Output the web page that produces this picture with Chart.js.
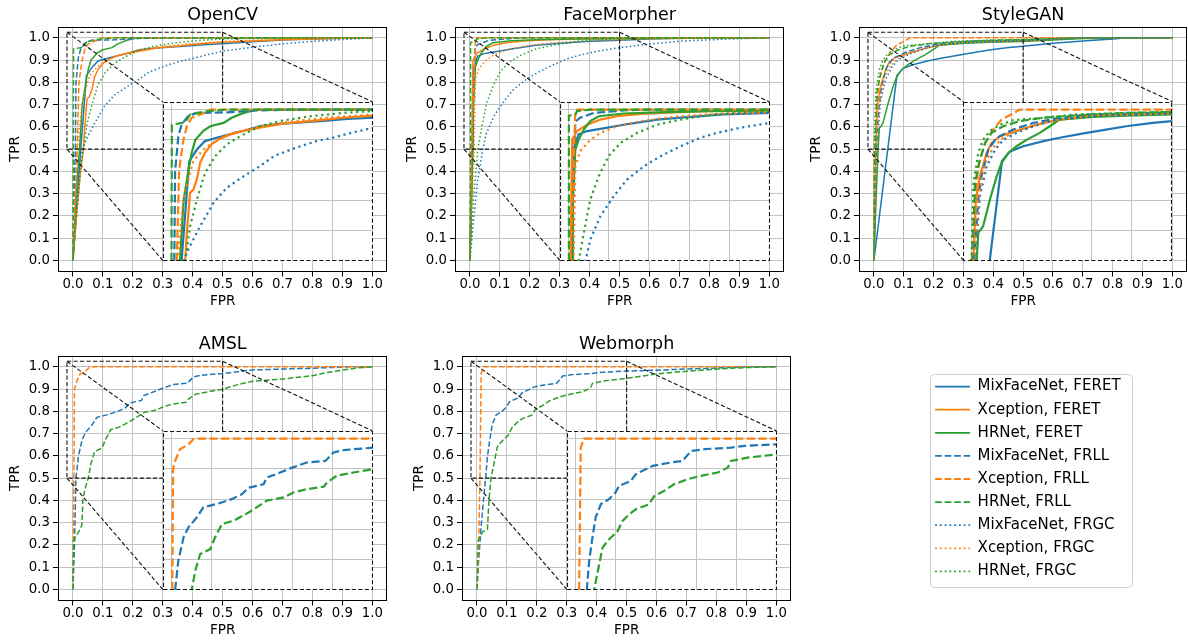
<!DOCTYPE html>
<html><head><meta charset="utf-8">
<script src="https://cdn.jsdelivr.net/npm/chart.js@4.4.1/dist/chart.umd.min.js"></script>
<style>
html,body{margin:0;padding:0;background:#fff;overflow:hidden;width:1188px;height:640px;}
.box{position:absolute;}
.box canvas{display:block;}
</style></head><body>
<script>
// ---------------- DATA ----------------
const tickValues = [0,0.1,0.2,0.3,0.4,0.5,0.6,0.7,0.8,0.9,1.0];
const insetXTicks = [0,0.1,0.2,0.3,0.4,0.5];
const insetYTicks = [0.5,0.6,0.7,0.8,0.9,1.0];
const panelTitles = ['OpenCV','FaceMorpher','StyleGAN','AMSL','Webmorph'];
const seriesLabels = ['MixFaceNet, FERET','Xception, FERET','HRNet, FERET',
  'MixFaceNet, FRLL','Xception, FRLL','HRNet, FRLL',
  'MixFaceNet, FRGC','Xception, FRGC','HRNet, FRGC'];
const xAxisLabel = 'FPR', yAxisLabel = 'TPR';
const mainRange = [-0.05, 1.05];
const zoomX = [-0.02, 0.5], zoomY = [0.5, 1.025];
const insetSpanX = [0.3, 1.0], insetSpanY = [0, 0.713];

// [FPR, TPR] points
const openCV_MixFaceNet_FERET = [[0,0],[0.026,0.5],[0.045,0.83],[0.064,0.868],[0.084,0.896],[0.113,0.907],[0.159,0.923],[0.18,0.93],[0.22,0.945],[0.27,0.953],[0.303,0.956],[0.37,0.962],[0.436,0.969],[0.5,0.973],[0.6,0.982],[0.7,0.99],[0.8,0.995],[0.9,0.998],[1,1]];
const openCV_Xception_FERET = [[0,0],[0.012,0.2],[0.025,0.4],[0.035,0.5],[0.039,0.593],[0.047,0.725],[0.055,0.735],[0.064,0.77],[0.072,0.824],[0.084,0.857],[0.1,0.885],[0.12,0.903],[0.146,0.918],[0.18,0.93],[0.22,0.94],[0.28,0.954],[0.345,0.962],[0.427,0.973],[0.5,0.98],[0.6,0.986],[0.7,0.991],[0.8,0.995],[0.9,0.998],[1,1]];
const openCV_HRNet_FERET = [[0,0],[0.01,0.3],[0.022,0.5],[0.031,0.7],[0.043,0.8],[0.051,0.857],[0.06,0.9],[0.08,0.93],[0.097,0.945],[0.13,0.956],[0.15,0.973],[0.18,0.989],[0.204,0.997],[0.22,1],[1,1]];
const openCV_MixFaceNet_FRLL = [[0,0],[0.004,0.3],[0.008,0.5],[0.01,0.797],[0.018,0.912],[0.026,0.95],[0.043,0.98],[0.064,0.989],[0.138,0.991],[0.213,0.997],[0.3,1],[1,1]];
const openCV_Xception_FRLL = [[0,0],[0.008,0.3],[0.014,0.5],[0.02,0.8],[0.03,0.896],[0.039,0.945],[0.051,0.973],[0.072,0.984],[0.088,0.991],[0.097,1],[1,1]];
const openCV_HRNet_FRLL = [[0,0],[0.001,0.5],[0.002,0.95],[0.035,0.958],[0.047,0.984],[0.09,0.995],[0.14,1],[1,1]];
const openCV_MixFaceNet_FRGC = [[0,0],[0.01,0.2],[0.02,0.4],[0.03,0.5],[0.047,0.55],[0.072,0.615],[0.105,0.692],[0.138,0.742],[0.18,0.78],[0.22,0.813],[0.254,0.846],[0.287,0.863],[0.32,0.879],[0.361,0.896],[0.4,0.907],[0.452,0.925],[0.5,0.94],[0.6,0.958],[0.7,0.973],[0.8,0.984],[0.9,0.992],[1,1]];
const openCV_Xception_FRGC = [[0,0],[0.008,0.3],[0.015,0.5],[0.03,0.7],[0.043,0.77],[0.055,0.83],[0.08,0.868],[0.113,0.9],[0.155,0.923],[0.22,0.945],[0.303,0.962],[0.386,0.973],[0.5,0.984],[0.6,0.99],[0.7,0.994],[0.8,0.997],[1,1]];
const openCV_HRNet_FRGC = [[0,0],[0.012,0.2],[0.025,0.4],[0.035,0.5],[0.047,0.615],[0.064,0.703],[0.084,0.79],[0.109,0.846],[0.138,0.885],[0.171,0.912],[0.22,0.945],[0.27,0.962],[0.345,0.978],[0.427,0.989],[0.5,0.995],[0.6,0.998],[1,1]];

const faceMorpher_MixFaceNet_FERET = [[0,0],[0.009,0.5],[0.01,0.7],[0.013,0.868],[0.026,0.918],[0.047,0.929],[0.08,0.936],[0.138,0.95],[0.22,0.967],[0.303,0.976],[0.386,0.984],[0.5,0.989],[0.6,0.995],[0.7,0.998],[1,1]];
const faceMorpher_Xception_FERET = [[0,0],[0.006,0.5],[0.01,0.9],[0.022,0.929],[0.047,0.95],[0.08,0.967],[0.121,0.978],[0.18,0.986],[0.262,0.991],[0.345,0.995],[0.5,0.997],[1,1]];
const faceMorpher_HRNet_FERET = [[0,0],[0.01,0.5],[0.012,0.7],[0.018,0.868],[0.026,0.9],[0.039,0.934],[0.055,0.962],[0.076,0.978],[0.138,0.987],[0.22,0.991],[0.345,0.995],[0.5,0.997],[1,1]];
const faceMorpher_MixFaceNet_FRLL = [[0,0],[0.007,0.5],[0.018,0.96],[0.03,0.973],[0.064,0.989],[0.138,0.997],[0.188,1],[1,1]];
const faceMorpher_Xception_FRLL = [[0,0],[0.006,0.5],[0.018,0.995],[0.022,1],[1,1]];
const faceMorpher_HRNet_FRLL = [[0,0],[0.002,0.5],[0.002,0.98],[0.018,0.983],[0.022,0.995],[0.055,1],[1,1]];
const faceMorpher_MixFaceNet_FRGC = [[0,0],[0.01,0.15],[0.025,0.35],[0.043,0.5],[0.055,0.571],[0.08,0.648],[0.113,0.714],[0.146,0.769],[0.188,0.813],[0.229,0.846],[0.279,0.879],[0.328,0.907],[0.369,0.923],[0.427,0.94],[0.5,0.956],[0.6,0.972],[0.7,0.985],[0.8,0.991],[0.9,0.996],[1,1]];
const faceMorpher_Xception_FRGC = [[0,0],[0.008,0.3],[0.014,0.5],[0.018,0.813],[0.03,0.863],[0.055,0.9],[0.08,0.923],[0.121,0.945],[0.18,0.962],[0.262,0.976],[0.345,0.984],[0.5,0.991],[0.6,0.995],[1,1]];
const faceMorpher_HRNet_FRGC = [[0,0],[0.01,0.25],[0.02,0.4],[0.026,0.5],[0.039,0.593],[0.055,0.703],[0.076,0.78],[0.1,0.846],[0.13,0.89],[0.171,0.923],[0.22,0.95],[0.279,0.967],[0.361,0.984],[0.436,0.991],[0.5,0.997],[1,1]];

const styleGAN_MixFaceNet_FERET = [[0,0],[0.077,0.83],[0.097,0.862],[0.13,0.879],[0.18,0.896],[0.22,0.907],[0.287,0.923],[0.336,0.934],[0.386,0.945],[0.452,0.956],[0.5,0.962],[0.6,0.976],[0.7,0.986],[0.8,0.995],[0.85,1],[1,1]];
const styleGAN_Xception_FERET = [[0,0],[0.003,0.3],[0.006,0.5],[0.012,0.703],[0.022,0.78],[0.039,0.857],[0.051,0.89],[0.072,0.912],[0.097,0.923],[0.138,0.94],[0.18,0.956],[0.22,0.967],[0.303,0.978],[0.386,0.984],[0.5,0.987],[0.6,0.993],[0.7,1],[1,1]];
const styleGAN_HRNet_FERET = [[0,0],[0.008,0.3],[0.014,0.5],[0.018,0.593],[0.03,0.615],[0.047,0.703],[0.064,0.78],[0.076,0.824],[0.093,0.857],[0.113,0.879],[0.138,0.9],[0.171,0.923],[0.196,0.945],[0.22,0.967],[0.303,0.976],[0.386,0.98],[0.5,0.984],[0.6,0.99],[0.7,0.997],[1,1]];
const styleGAN_MixFaceNet_FRLL = [[0,0],[0.004,0.3],[0.008,0.5],[0.018,0.703],[0.026,0.78],[0.043,0.868],[0.064,0.907],[0.08,0.918],[0.105,0.934],[0.155,0.956],[0.22,0.973],[0.303,0.984],[0.5,0.99],[0.6,0.995],[0.7,1],[1,1]];
const styleGAN_Xception_FRLL = [[0,0],[0.002,0.5],[0.01,0.703],[0.018,0.813],[0.035,0.89],[0.055,0.934],[0.076,0.967],[0.1,0.984],[0.121,1],[1,1]];
const styleGAN_HRNet_FRLL = [[0,0],[0.003,0.5],[0.01,0.758],[0.022,0.835],[0.035,0.89],[0.051,0.923],[0.08,0.945],[0.121,0.962],[0.18,0.973],[0.262,0.981],[0.386,0.989],[0.5,0.992],[0.6,0.996],[0.7,1],[1,1]];
const styleGAN_MixFaceNet_FRGC = [[0,0],[0.005,0.3],[0.01,0.5],[0.022,0.714],[0.039,0.813],[0.06,0.868],[0.08,0.9],[0.113,0.923],[0.155,0.945],[0.212,0.967],[0.303,0.978],[0.5,0.987],[0.6,0.993],[0.7,1],[1,1]];
const styleGAN_Xception_FRGC = [[0,0],[0.004,0.3],[0.008,0.5],[0.018,0.703],[0.035,0.824],[0.055,0.874],[0.08,0.907],[0.113,0.929],[0.163,0.95],[0.22,0.967],[0.303,0.98],[0.5,0.987],[0.6,0.993],[0.7,1],[1,1]];
const styleGAN_HRNet_FRGC = [[0,0],[0.001,0.5],[0.006,0.758],[0.018,0.857],[0.03,0.9],[0.047,0.929],[0.072,0.95],[0.105,0.965],[0.18,0.973],[0.262,0.984],[0.386,0.989],[0.5,0.992],[0.6,0.996],[0.7,1],[1,1]];

const amsl_MixFaceNet_FRLL = [[0,0],[0.005,0.2],[0.01,0.5],[0.018,0.597],[0.031,0.674],[0.043,0.707],[0.064,0.74],[0.08,0.773],[0.113,0.784],[0.15,0.8],[0.175,0.816],[0.192,0.838],[0.229,0.849],[0.237,0.871],[0.27,0.888],[0.3,0.904],[0.336,0.921],[0.382,0.926],[0.402,0.954],[0.427,0.962],[0.5,0.97],[0.6,0.986],[0.8,0.994],[0.93,1],[1,1]];
const amsl_Xception_FRLL = [[0,0],[0.003,0.5],[0.005,0.9],[0.01,0.926],[0.022,0.965],[0.043,0.981],[0.055,0.998],[0.064,1],[1,1]];
const amsl_HRNet_FRLL = [[0,0],[0.002,0.22],[0.02,0.26],[0.03,0.29],[0.033,0.4],[0.04,0.45],[0.051,0.5],[0.06,0.564],[0.072,0.619],[0.097,0.635],[0.109,0.674],[0.126,0.718],[0.155,0.729],[0.192,0.756],[0.212,0.773],[0.237,0.795],[0.279,0.806],[0.303,0.822],[0.336,0.833],[0.378,0.841],[0.386,0.855],[0.41,0.877],[0.452,0.888],[0.5,0.899],[0.55,0.92],[0.6,0.935],[0.7,0.945],[0.8,0.96],[0.85,0.975],[0.9,0.985],[0.95,0.995],[1,1]];

const webmorph_MixFaceNet_FRLL = [[0,0],[0.005,0.12],[0.015,0.3],[0.025,0.45],[0.029,0.5],[0.035,0.597],[0.043,0.674],[0.051,0.74],[0.064,0.784],[0.084,0.8],[0.1,0.822],[0.109,0.844],[0.138,0.86],[0.15,0.882],[0.175,0.899],[0.192,0.91],[0.237,0.921],[0.266,0.926],[0.287,0.959],[0.32,0.965],[0.386,0.97],[0.419,0.976],[0.5,0.981],[0.6,0.985],[0.7,0.99],[0.8,0.995],[0.9,1],[1,1]];
const webmorph_Xception_FRLL = [[0,0],[0.005,0.15],[0.01,0.5],[0.014,0.97],[0.022,1],[1,1]];
const webmorph_HRNet_FRLL = [[0,0],[0.004,0.22],[0.02,0.26],[0.035,0.27],[0.04,0.4],[0.047,0.5],[0.055,0.553],[0.068,0.64],[0.084,0.667],[0.105,0.694],[0.117,0.727],[0.134,0.75],[0.15,0.766],[0.183,0.783],[0.196,0.81],[0.22,0.827],[0.245,0.849],[0.279,0.866],[0.312,0.877],[0.353,0.888],[0.378,0.904],[0.386,0.926],[0.427,0.937],[0.5,0.948],[0.6,0.968],[0.7,0.98],[0.8,0.99],[0.9,0.997],[1,1]];

// series index (into seriesLabels) -> points, per panel
const panelCurves = [
  [[0,openCV_MixFaceNet_FERET],[1,openCV_Xception_FERET],[2,openCV_HRNet_FERET],[3,openCV_MixFaceNet_FRLL],[4,openCV_Xception_FRLL],[5,openCV_HRNet_FRLL],[6,openCV_MixFaceNet_FRGC],[7,openCV_Xception_FRGC],[8,openCV_HRNet_FRGC]],
  [[0,faceMorpher_MixFaceNet_FERET],[1,faceMorpher_Xception_FERET],[2,faceMorpher_HRNet_FERET],[3,faceMorpher_MixFaceNet_FRLL],[4,faceMorpher_Xception_FRLL],[5,faceMorpher_HRNet_FRLL],[6,faceMorpher_MixFaceNet_FRGC],[7,faceMorpher_Xception_FRGC],[8,faceMorpher_HRNet_FRGC]],
  [[0,styleGAN_MixFaceNet_FERET],[1,styleGAN_Xception_FERET],[2,styleGAN_HRNet_FERET],[3,styleGAN_MixFaceNet_FRLL],[4,styleGAN_Xception_FRLL],[5,styleGAN_HRNet_FRLL],[6,styleGAN_MixFaceNet_FRGC],[7,styleGAN_Xception_FRGC],[8,styleGAN_HRNet_FRGC]],
  [[3,amsl_MixFaceNet_FRLL],[4,amsl_Xception_FRLL],[5,amsl_HRNet_FRLL]],
  [[3,webmorph_MixFaceNet_FRLL],[4,webmorph_Xception_FRLL],[5,webmorph_HRNet_FRLL]]
];

// ---------------- LAYOUT / STYLE ----------------
const LAYOUT = [
  {x0:72.7, x1:372.3, y1:38.3, y0:261.3},
  {x0:470.0, x1:769.3, y1:38.3, y0:261.3},
  {x0:874.3, x1:1172.6, y1:38.3, y0:261.3},
  {x0:72.7, x1:372.3, y1:367.0, y0:590.0},
  {x0:477.0, x1:776.7, y1:367.0, y0:590.0}
];
const COLORS = ['#1f77b4','#ff7f0e','#2ca02c'];
const GRID = '#c2c2c2';
const FONT = "'DejaVu Sans', sans-serif";
const CONNECT_DASH = [4.2, 2.3];
Chart.defaults.font.family = FONT;
Chart.defaults.color = '#000';

function styleFor(li, lw){
  const model = li % 3, kind = Math.floor(li / 3);
  const dash = kind === 0 ? [] : kind === 1 ? [3.7*lw, 1.6*lw] : [1*lw, 1.65*lw];
  return {color: COLORS[model], dash};
}
function makeDatasets(list, lw){
  return list.map(([li, pts], k) => {
    const s = styleFor(li, lw);
    return {label: seriesLabels[li], data: pts.map(p => ({x:p[0], y:p[1]})),
      showLine:true, borderColor:s.color, backgroundColor:s.color, borderWidth:lw,
      borderDash:s.dash, pointRadius:0, pointHoverRadius:0, fill:false, tension:0, order:-k};
  });
}
function makeBox(w, h, z){
  const box = document.createElement('div');
  box.className = 'box'; box.style.zIndex = z;
  const c = document.createElement('canvas');
  c.width = Math.round(w); c.height = Math.round(h);
  box.appendChild(c); document.body.appendChild(box);
  return {box, canvas:c};
}
function fitChart(chart, box, T){
  for (let k = 0; k < 3; k++){
    const ca = chart.chartArea;
    const w = Math.round(chart.width + (T.r - T.l) - (ca.right - ca.left));
    const h = Math.round(chart.height + (T.b - T.t) - (ca.bottom - ca.top));
    if (w === chart.width && h === chart.height) break;
    chart.resize(w, h);
  }
  const ca = chart.chartArea;
  const L = Math.round(T.l - ca.left), Tp = Math.round(T.t - ca.top);
  box.style.left = L + 'px'; box.style.top = Tp + 'px';
  return {left: L, top: Tp};
}
function line(ctx, x1, y1, x2, y2){ ctx.beginPath(); ctx.moveTo(x1,y1); ctx.lineTo(x2,y2); ctx.stroke(); }

const mainDecor = {
  id:'mainDecor',
  afterDatasetsDraw(chart){
    const {ctx, chartArea:a, scales:{x, y}} = chart;
    const X = v => x.getPixelForValue(v), Y = v => y.getPixelForValue(v);
    ctx.save();
    ctx.strokeStyle = '#000'; ctx.lineWidth = 1; ctx.setLineDash([]);
    const l = Math.round(a.left)+0.5, t = Math.round(a.top)+0.5, r = Math.round(a.right)-0.5, b = Math.round(a.bottom)-0.5;
    ctx.strokeRect(l, t, r-l, b-t);
    ctx.setLineDash(CONNECT_DASH); ctx.lineWidth = 1.1; ctx.strokeStyle = '#111';
    ctx.strokeRect(X(zoomX[0]), Y(zoomY[1]), X(zoomX[1]) - X(zoomX[0]), Y(zoomY[0]) - Y(zoomY[1]));
    line(ctx, X(zoomX[0]), Y(zoomY[1]), X(insetSpanX[0]), Y(insetSpanY[1]));
    line(ctx, X(zoomX[1]), Y(zoomY[1]), X(insetSpanX[1]), Y(insetSpanY[1]));
    line(ctx, X(zoomX[0]), Y(zoomY[0]), X(insetSpanX[0]), Y(insetSpanY[0]));
    ctx.restore();
  }
};
const insetDecor = {
  id:'insetDecor',
  beforeDraw(chart){
    const {ctx, chartArea:a} = chart;
    ctx.save(); ctx.fillStyle = '#fff'; ctx.fillRect(a.left, a.top, a.right-a.left, a.bottom-a.top); ctx.restore();
  },
  afterDraw(chart){
    const {ctx, chartArea:a} = chart;
    ctx.save(); ctx.strokeStyle = '#111'; ctx.lineWidth = 1.1; ctx.setLineDash(CONNECT_DASH);
    ctx.strokeRect(a.left+0.5, a.top+0.5, a.right-a.left-1, a.bottom-a.top-1);
    ctx.restore();
  }
};

function mainScale(axisTitle, horizontal){
  return {
    type:'linear', min:mainRange[0], max:mainRange[1],
    afterBuildTicks: s => { s.ticks = tickValues.map(v => ({value:v})); },
    ticks:{callback: v => Number(v).toFixed(1), font:{size:13.3}, color:'#000', padding: horizontal ? 0 : 3, maxRotation:0, autoSkip:false},
    grid:{color:GRID, lineWidth:1, tickColor:'#000', tickLength:5, tickWidth:1},
    border:{display:false},
    title:{display:true, text:axisTitle, font:{size:13.6}, color:'#000', padding:0},
    afterFit: s => { if (horizontal) s.height = 38.5; else s.width = 51; }
  };
}
function insetScale(range, ticks, horizontal){
  return {
    type:'linear', min:range[0], max:range[1],
    afterBuildTicks: s => { s.ticks = ticks.map(v => ({value:v})); },
    ticks:{display:false},
    grid:{color:GRID, lineWidth:1, drawTicks:false},
    border:{display:false},
    afterFit: s => { if (horizontal) s.height = 0; else s.width = 0; }
  };
}

panelTitles.forEach((title, p) => {
  const Lo = LAYOUT[p];
  const u = Lo.x1 - Lo.x0, v = Lo.y0 - Lo.y1;
  const T = {l: Lo.x0 + mainRange[0]*u, r: Lo.x0 + mainRange[1]*u, t: Lo.y0 - mainRange[1]*v, b: Lo.y0 - mainRange[0]*v};
  const mb = makeBox(T.r - T.l + 60, T.b - T.t + 70, 1);
  const main = new Chart(mb.canvas, {
    type:'scatter',
    data:{datasets: makeDatasets(panelCurves[p], 1.5)},
    options:{
      responsive:false, maintainAspectRatio:false, animation:false, events:[],
      layout:{padding:0},
      plugins:{legend:{display:false}, tooltip:{enabled:false},
        title:{display:true, text:title, fullSize:false, color:'#000', font:{size:17.5, weight:'normal'}, padding:{top:5.5, bottom:1.2}}},
      scales:{x: mainScale(xAxisLabel, true), y: mainScale(yAxisLabel, false)}
    },
    plugins:[mainDecor]
  });
  const pos = fitChart(main, mb.box, T);
  const xs = main.scales.x, ys = main.scales.y;
  const IT = {l: pos.left + xs.getPixelForValue(insetSpanX[0]), r: pos.left + xs.getPixelForValue(insetSpanX[1]),
              t: pos.top + ys.getPixelForValue(insetSpanY[1]), b: pos.top + ys.getPixelForValue(insetSpanY[0])};
  const ib = makeBox(IT.r - IT.l, IT.b - IT.t, 2);
  const inset = new Chart(ib.canvas, {
    type:'scatter',
    data:{datasets: makeDatasets(panelCurves[p], 2.2)},
    options:{
      responsive:false, maintainAspectRatio:false, animation:false, events:[],
      layout:{padding:0},
      plugins:{legend:{display:false}, tooltip:{enabled:false}, title:{display:false}},
      scales:{x: insetScale(zoomX, insetXTicks, true), y: insetScale(zoomY, insetYTicks, false)}
    },
    plugins:[insetDecor]
  });
  fitChart(inset, ib.box, IT);
});

// ---------------- LEGEND ----------------
const legendFrame = {
  id:'legendFrame',
  beforeDraw(chart){
    const ctx = chart.ctx;
    ctx.save();
    ctx.fillStyle = 'rgba(255,255,255,0.8)'; ctx.strokeStyle = '#cfcfcf'; ctx.lineWidth = 1;
    ctx.beginPath(); ctx.roundRect(3.5, 3.5, 202, 213, 4); ctx.fill(); ctx.stroke();
    ctx.restore();
  }
};
const lgb = makeBox(215, 240, 1);
lgb.box.style.left = '927px'; lgb.box.style.top = '371px';
new Chart(lgb.canvas, {
  type:'scatter',
  data:{datasets: makeDatasets(seriesLabels.map((s, i) => [i, []]), 1.8)},
  options:{
    responsive:false, maintainAspectRatio:false, animation:false, events:[],
    layout:{padding:0},
    scales:{x:{display:false}, y:{display:false}},
    plugins:{tooltip:{enabled:false},
      legend:{display:true, position:'top', align:'start', maxHeight:400,
        labels:{usePointStyle:true, pointStyle:'line', pointStyleWidth:35, padding:8.1,
          font:{size:15}, color:'#000',
          generateLabels: ch => ch.data.datasets.map((d, i) => ({
            text:d.label, strokeStyle:d.borderColor, fillStyle:d.borderColor, lineWidth:d.borderWidth,
            lineDash:d.borderDash, lineCap:'butt', pointStyle:'line', hidden:false, datasetIndex:i}))
        }}}
  },
  plugins:[legendFrame]
});
</script>
</body></html>
